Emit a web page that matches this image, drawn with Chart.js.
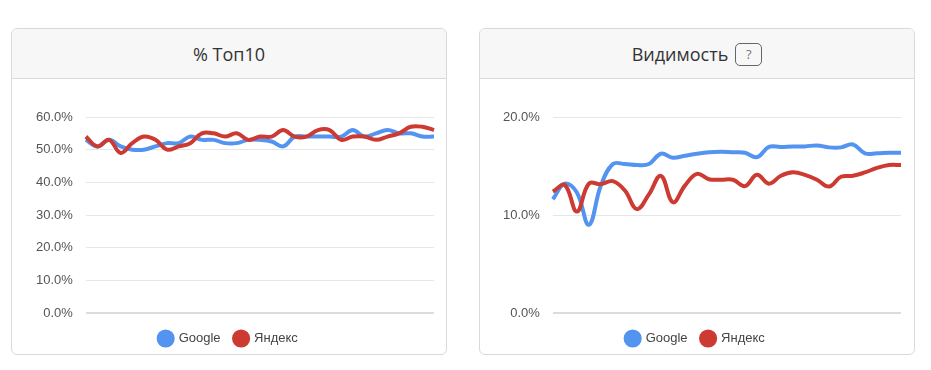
<!DOCTYPE html>
<html>
<head>
<meta charset="utf-8">
<script src="https://cdn.jsdelivr.net/npm/chart.js@4/dist/chart.umd.min.js"></script>
<style>
  body { margin: 0; background: #fff; font-family: "Open Sans", sans-serif; }
  .carte { position: absolute; top: 28px; width: 434px; height: 325px; border: 1px solid #d9d9d9; border-radius: 6px; overflow: hidden; background: #fff; }
  .entete { height: 50px; background: #f7f7f7; border-bottom: 1px solid #d9d9d9; display: flex; align-items: center; justify-content: center; font-size: 18px; color: #333; padding-top: 1px; box-sizing: border-box; }
  .aide { display: inline-block; box-sizing: border-box; width: 27px; height: 23px; margin-left: 7px; border: 1px solid #666; border-radius: 5px; font-size: 13px; line-height: 21px; text-align: center; color: #777; }
  .corps { position: relative; width: 434px; height: 274px; }
</style>
</head>
<body>
<div class="carte" style="left:11px">
  <div class="entete">% Топ10</div>
  <div class="corps"><canvas id="top10"></canvas></div>
</div>
<div class="carte" style="left:479px">
  <div class="entete">Видимость<span class="aide">?</span></div>
  <div class="corps"><canvas id="visibilite"></canvas></div>
</div>
<script>
// jours (axe x masqué)
var joursTop = ['1', '2', '3', '4', '5', '6', '7', '8', '9', '10', '11', '12', '13', '14', '15', '16',
    '17', '18', '19', '20', '21', '22', '23', '24', '25', '26', '27', '28', '29', '30', '31'];
var joursVis = ['1', '2', '3', '4', '5', '6', '7', '8', '9', '10', '11', '12', '13', '14', '15', '16',
    '17', '18', '19', '20', '21', '22', '23', '24', '25', '26', '27', '28', '29', '30'];

// % Топ10
var topGoogle = [53, 51, 53, 51, 50, 50, 51, 52, 52, 54, 53, 53, 52, 52, 53, 53,
    52.5, 51, 54, 54, 54, 54, 54, 56, 54, 55, 56, 55, 55, 54, 54];
var topYandex = [54, 51, 53, 49, 52, 54, 53, 50, 51, 52, 55, 55, 54, 55, 53, 54,
    54, 56, 54, 54, 56, 56, 53, 54, 54, 53, 54, 55, 57, 57, 56];

// Видимость
var visGoogle = [11.6, 13.2, 12.3, 9.0, 13.0, 15.2, 15.2, 15.1, 15.2, 16.25, 15.85, 16.05, 16.25, 16.4, 16.45,
    16.4, 16.35, 15.9, 16.95, 16.95, 17.0, 17.0, 17.1, 16.9, 16.9, 17.2, 16.3, 16.3, 16.35, 16.35];
var visYandex = [12.4, 13.05, 10.35, 13.2, 13.15, 13.45, 12.5, 10.6, 12.1, 14.0, 11.3, 13.0, 14.2, 13.65, 13.6,
    13.6, 12.95, 14.1, 13.2, 14.0, 14.35, 14.1, 13.6, 12.9, 13.9, 14.0, 14.35, 14.8, 15.1, 15.1];

var nomsSeries = ['Google', 'Яндекс'];
var ticksTop = [0, 10, 20, 30, 40, 50, 60];
var ticksVis = [0, 10, 20];

Chart.defaults.font.family = "'Liberation Sans', Arial, sans-serif";
Chart.defaults.color = '#555';

function trait(label, data, couleur, ordre) {
    return {
        label: label,
        data: data,
        borderColor: couleur,
        backgroundColor: couleur,
        borderWidth: 4,
        pointRadius: 0,
        tension: 0.4,
        order: ordre
    };
}

function afficheCourbe(id, jours, google, yandex, graduations, padGauche, padDroite) {
    return new Chart(document.getElementById(id).getContext('2d'), {
        type: 'line',
        data: {
            labels: jours,
            datasets: [
                trait(nomsSeries[0], google, '#5394f0', 2),
                trait(nomsSeries[1], yandex, '#cc3a32', 1)
            ]
        },
        options: {
            responsive: false,
            animation: false,
            layout: { padding: { left: padGauche, right: padDroite, top: 38, bottom: -2 } },
            scales: {
                x: {
                    ticks: { display: false },
                    grid: { display: false, drawTicks: true, tickLength: 5 },
                    border: { display: false }
                },
                y: {
                    min: graduations[0],
                    max: graduations[graduations.length - 1],
                    afterBuildTicks: function (axe) {
                        axe.ticks = graduations.map(function (v) { return { value: v }; });
                    },
                    ticks: {
                        padding: 13,
                        font: { size: 13 },
                        color: '#555',
                        callback: function (v) { return v.toFixed(1) + '%'; }
                    },
                    grid: {
                        drawTicks: false,
                        color: function (c) { return c.tick && c.tick.value === 0 ? '#dcdcdc' : '#e6e6e6'; },
                        lineWidth: function (c) { return c.tick && c.tick.value === 0 ? 2 : 1; }
                    },
                    border: { display: false }
                }
            },
            plugins: {
                legend: {
                    position: 'bottom',
                    labels: {
                        usePointStyle: true,
                        boxHeight: 10,
                        padding: 14,
                        font: { size: 13 },
                        color: '#444',
                        sort: function (a, b) { return a.datasetIndex - b.datasetIndex; }
                    }
                },
                tooltip: { enabled: false }
            }
        }
    });
}

var c1 = document.getElementById('top10');
c1.width = 434; c1.height = 274;
var c2 = document.getElementById('visibilite');
c2.width = 434; c2.height = 274;

afficheCourbe('top10', joursTop, topGoogle, topYandex, ticksTop, 11, 12);
afficheCourbe('visibilite', joursVis, visGoogle, visYandex, ticksVis, 10, 13);
</script>
</body>
</html>
